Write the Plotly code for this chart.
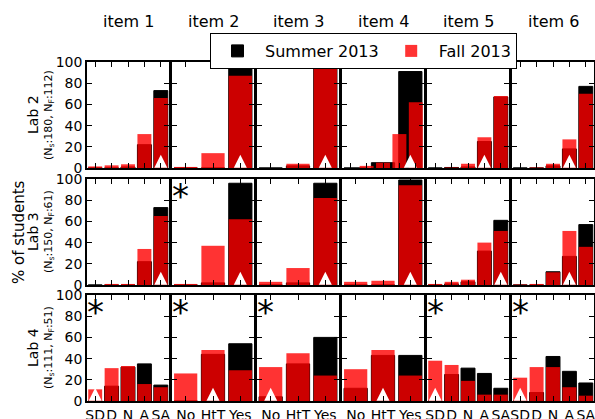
import plotly.graph_objects as go

W, H = 595, 419

items = ["item 1", "item 2", "item 3", "item 4", "item 5", "item 6"]
labs = ["Lab 2", "Lab 3", "Lab 4"]
n_summer = [180, 150, 111]
n_fall = [112, 61, 51]

likert = ["SD", "D", "N", "A", "SA"]
yesno = ["No", "HtT", "Yes"]

# answer scale of each item (summer / fall); Lab 2 item 4 fall used a Likert scale
scales_summer = [
    [likert, yesno, yesno, yesno, likert, likert],
    [likert, yesno, yesno, yesno, likert, likert],
    [likert, yesno, yesno, yesno, likert, likert],
]
scales_fall = [
    [likert, yesno, yesno, likert, likert, likert],
    [likert, yesno, yesno, yesno, likert, likert],
    [likert, yesno, yesno, yesno, likert, likert],
]

summer_lab2 = [[0, 0, 1, 22, 73], [0, 0, 98], [0, 2, 97], [0, 5, 91], [0, 0.5, 1, 25, 67], [0, 0, 2, 18, 77]]
fall_lab2 = [[1.5, 2.5, 3.5, 32, 66], [1, 14, 87], [0, 4, 97], [0, 2, 5, 32, 62], [0, 0.5, 4, 29, 68], [0, 0.5, 4, 27, 70]]
summer_lab3 = [[0, 0, 0, 22, 73], [0, 2, 96], [0, 2, 96], [0, 0, 99], [0, 1, 3, 32, 61], [0, 0, 12.5, 27, 57]]
fall_lab3 = [[0, 1, 1, 34, 65], [1, 37, 62], [3, 16, 82], [3, 4, 94], [1, 3, 5, 40, 51], [0.5, 1, 12, 51, 36]]
summer_lab4 = [[0, 14, 32, 35, 15], [0, 44, 54], [4, 35, 60], [12, 43, 43], [0, 25, 31, 26, 12], [0, 8, 42, 28, 17]]
fall_lab4 = [[11, 31, 33, 16, 13], [26, 48, 29], [32, 45, 24], [30, 48, 24], [38, 34, 19, 6, 6], [22, 32, 32, 13, 5]]

summer = [summer_lab2, summer_lab3, summer_lab4]
fall = [fall_lab2, fall_lab3, fall_lab4]

expert_lab2 = ["SA", "Yes", "Yes", "Yes", "A", "A"]
expert_lab3 = ["SA", "Yes", "Yes", "Yes", "SA", "A"]
expert_lab4 = ["SD", "HtT", "No", "HtT", "SD", "SD"]
expert = [expert_lab2, expert_lab3, expert_lab4]

signif_lab2 = [False, False, False, False, False, False]
signif_lab3 = [False, True, False, False, False, False]
signif_lab4 = [True, True, True, False, True, True]
signif = [signif_lab2, signif_lab3, signif_lab4]

yticks = [0, 20, 40, 60, 80, 100]

# ---------------- layout geometry (pixels) ----------------
col_x0 = [87, 172, 257, 342, 427, 512]
col_w = 82
row_y0 = [62, 179, 295]
row_h = 106

def px_x(p):
    return p / W

def px_y(p):
    return 1 - p / H

FONT = "DejaVu Sans"
BLACK = "black"
RED = "rgba(255,0,0,0.8)"

fig = go.Figure()
layout = dict(
    width=W, height=H,
    margin=dict(l=0, r=0, t=0, b=0, autoexpand=False),
    paper_bgcolor="white", plot_bgcolor="white",
    barmode="overlay",
    font=dict(family=FONT, size=14, color="black"),
    showlegend=True,
    legend=dict(orientation="h", x=px_x(210), xanchor="left", y=px_y(33), yanchor="top",
                bordercolor="black", borderwidth=1, bgcolor="white",
                font=dict(size=16, family=FONT), itemwidth=45, tracegroupgap=0),
)

annotations = []
extra_axis = [19]

def base_xaxis(k, r, c, cats, show_ticks=True, show_line=True):
    return dict(
        domain=[px_x(col_x0[c]), px_x(col_x0[c] + col_w)],
        anchor=f"y{k}", type="category",
        categoryorder="array", categoryarray=cats,
        range=[-0.5, len(cats) - 0.5],
        tickmode="array", tickvals=cats, ticktext=cats,
        showline=show_line, linecolor="black", linewidth=1.5,
        mirror="allticks" if show_ticks else True,
        ticks="inside" if show_ticks else "", ticklen=5, tickcolor="black",
        showticklabels=(r == 2) and show_ticks, tickangle=0,
        tickfont=dict(size=14, family=FONT),
        showgrid=False, zeroline=False, fixedrange=True, automargin=False,
    )

first_s = True
first_f = True
for r in range(3):
    for c in range(6):
        k = r * 6 + c + 1
        cats_s = scales_summer[r][c]
        cats_f = scales_fall[r][c]
        split = cats_s != cats_f
        xa_main = f"x{k}"
        layout[f"xaxis{k}"] = base_xaxis(k, r, c, cats_s, show_ticks=not split)
        layout[f"yaxis{k}"] = dict(
            domain=[px_y(row_y0[r] + row_h), px_y(row_y0[r])],
            anchor=f"x{k}", range=[0, 100], tickmode="array", tickvals=yticks,
            showline=True, linecolor="black", linewidth=1.5, mirror="allticks",
            ticks="inside", ticklen=5, tickcolor="black",
            showticklabels=(c == 0), tickfont=dict(size=14, family=FONT),
            showgrid=False, zeroline=False, fixedrange=True, automargin=False,
        )
        fig.add_trace(go.Bar(
            x=cats_s, y=summer[r][c], xaxis=xa_main, yaxis=f"y{k}", width=0.85,
            marker=dict(color=BLACK, line=dict(color="black", width=1)),
            name="Summer 2013", legendgroup="s", showlegend=first_s, hoverinfo="skip"))
        first_s = False
        xa_fall = xa_main
        xa_tri = xa_main
        if split:
            # fall bars on an overlay axis with their own category scale
            n1 = extra_axis[0]
            n2 = n1 + 1
            extra_axis[0] += 2
            ax_f = base_xaxis(k, r, c, cats_f, show_ticks=True, show_line=False)
            ax_f.update(overlaying=f"x{k}")
            layout[f"xaxis{n1}"] = ax_f
            ax_t = base_xaxis(k, r, c, cats_s, show_ticks=False, show_line=False)
            ax_t.update(overlaying=f"x{k}", visible=False)
            layout[f"xaxis{n2}"] = ax_t
            xa_fall = f"x{n1}"
            xa_tri = f"x{n2}"
        fig.add_trace(go.Bar(
            x=cats_f, y=fall[r][c], xaxis=xa_fall, yaxis=f"y{k}", width=0.85,
            marker=dict(color=RED, line=dict(width=0)),
            name="Fall 2013", legendgroup="f", showlegend=first_f, hoverinfo="skip"))
        first_f = False
        # white marker for the expert answer: apex ~12 units up, base at 0
        fig.add_trace(go.Scatter(
            x=[expert[r][c]], y=[12.5], xaxis=xa_tri, yaxis=f"y{k}", mode="markers",
            marker=dict(symbol="arrow-up", size=13, color="white", line=dict(width=0)),
            showlegend=False, hoverinfo="skip"))
        if signif[r][c]:
            annotations.append(dict(
                text="*", xref=f"x{k} domain", yref=f"y{k} domain",
                x=0.1, y=0.84, xanchor="center", yanchor="middle", showarrow=False,
                font=dict(size=34, family=FONT, color="black")))

# column titles
for c, name in enumerate(items):
    annotations.append(dict(
        text=name, xref="paper", yref="paper",
        x=px_x(col_x0[c] + col_w / 2), y=px_y(22), xanchor="center", yanchor="middle",
        showarrow=False, font=dict(size=16, family=FONT)))

# row labels
for r, lab in enumerate(labs):
    yc = px_y(row_y0[r] + row_h / 2)
    annotations.append(dict(
        text=lab, xref="paper", yref="paper", x=px_x(33), y=yc,
        xanchor="center", yanchor="middle", textangle=-90, showarrow=False,
        font=dict(size=14, family=FONT)))
    annotations.append(dict(
        text=f"(N<sub>s</sub>:{n_summer[r]}, N<sub>F</sub>:{n_fall[r]})",
        xref="paper", yref="paper", x=px_x(49), y=yc,
        xanchor="center", yanchor="middle", textangle=-90, showarrow=False,
        font=dict(size=11, family=FONT)))

annotations.append(dict(
    text="% of students", xref="paper", yref="paper", x=px_x(19),
    y=px_y(row_y0[1] + row_h / 2), xanchor="center", yanchor="middle",
    textangle=-90, showarrow=False, font=dict(size=15, family=FONT)))

layout["annotations"] = annotations
fig.update_layout(**layout)
fig.write_html("out.html", config={"displayModeBar": False},
               post_script="document.body.style.margin='0';")
